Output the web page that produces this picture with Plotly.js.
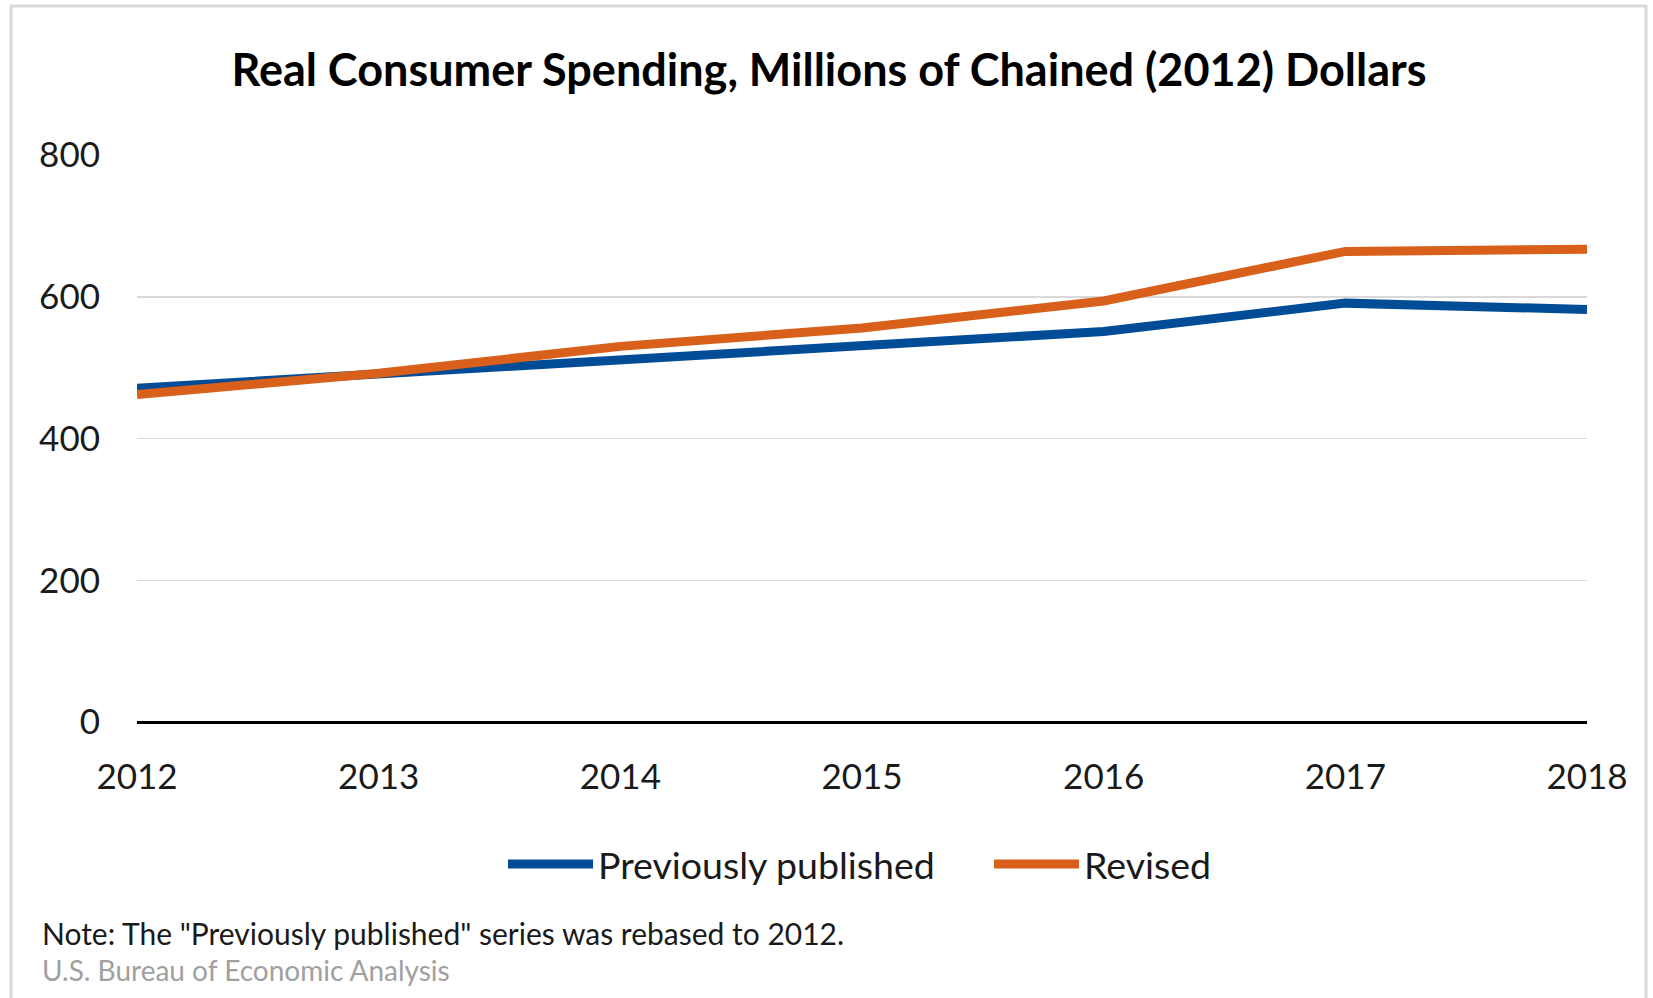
<!DOCTYPE html>
<html>
<head>
<meta charset="utf-8">
<script src="https://cdn.plot.ly/plotly-3.0.1.min.js"></script>
<style>
  html, body { margin: 0; padding: 0; background: #ffffff; }
  #chart { width: 1653px; height: 998px; }
</style>
</head>
<body>
<div id="chart"></div>
<script>
// ---- Data ----
const years = ['2012', '2013', '2014', '2015', '2016', '2017', '2018'];
const previouslyPublished = [471, 491, 512, 531, 551, 591, 582];
const revised = [462, 492, 530, 556, 594, 664, 667];
const yTickValues = [0, 200, 400, 600, 800];
const titleText = 'Real Consumer Spending, Millions of Chained (2012) Dollars';
const noteText = 'Note: The "Previously published" series was rebased to 2012.';
const sourceText = 'U.S. Bureau of Economic Analysis';

const W = 1653, H = 998;
const M = { l: 137, r: 66, t: 155, b: 276 };
const plotW = W - M.l - M.r, plotH = H - M.t - M.b;
const px = x => (x - M.l) / plotW;          // page px -> paper x
const py = y => (H - M.b - y) / plotH;      // page px -> paper y

const FONT = 'Lato, "Open Sans", sans-serif';

const traces = [
  {
    x: years, y: previouslyPublished, type: 'scatter', mode: 'lines',
    name: 'Previously published',
    line: { color: '#004C97', width: 9 }
  },
  {
    x: years, y: revised, type: 'scatter', mode: 'lines',
    name: 'Revised',
    line: { color: '#D9601A', width: 9 }
  }
];

const layout = {
  width: W, height: H,
  margin: M,
  paper_bgcolor: '#ffffff',
  plot_bgcolor: '#ffffff',
  showlegend: true,
  title: {
    text: '<b>' + titleText + '</b>',
    font: { family: FONT, size: 45, color: '#000000' },
    x: 829 / W, xref: 'container', xanchor: 'center',
    y: 1 - 70 / H, yref: 'container', yanchor: 'middle'
  },
  xaxis: {
    type: 'category',
    range: [0, years.length - 1],
    showgrid: false,
    zeroline: false,
    showline: false,
    ticks: 'outside', ticklen: 24, tickcolor: 'rgba(0,0,0,0)',
    tickfont: { family: FONT, size: 35, color: '#1a1a1a' },
    fixedrange: true,
    automargin: false
  },
  yaxis: {
    range: [0, 800],
    tickvals: yTickValues,
    ticktext: yTickValues.map(String),
    showgrid: true, gridcolor: '#d9d9d9', gridwidth: 1.5,
    zeroline: true, zerolinecolor: '#000000', zerolinewidth: 3,
    showline: false,
    ticks: '', ticklabelstandoff: 36,
    tickfont: { family: FONT, size: 35, color: '#1a1a1a' },
    fixedrange: true,
    automargin: false
  },
  legend: {
    orientation: 'h',
    x: px(503), xanchor: 'left',
    y: py(864), yanchor: 'middle',
    font: { family: FONT, size: 37.5, color: '#1a1a1a' },
    itemwidth: 85,
    entrywidth: 386, entrywidthmode: 'pixels',
    tracegroupgap: 0,
    bgcolor: 'rgba(0,0,0,0)'
  },
  annotations: [
    {
      text: noteText, xref: 'paper', yref: 'paper',
      x: px(40), y: py(933), xanchor: 'left', yanchor: 'middle',
      showarrow: false,
      font: { family: FONT, size: 30, color: '#1a1a1a' }
    },
    {
      text: sourceText, xref: 'paper', yref: 'paper',
      x: px(40), y: py(970), xanchor: 'left', yanchor: 'middle',
      showarrow: false,
      font: { family: FONT, size: 28, color: '#a0a0a0' }
    }
  ],
  shapes: [
    {
      type: 'rect', xref: 'paper', yref: 'paper',
      x0: px(11), x1: px(1646), y0: py(1010), y1: py(6),
      line: { color: '#d9d9d9', width: 3 },
      fillcolor: 'rgba(0,0,0,0)',
      layer: 'below'
    }
  ]
};

Plotly.newPlot('chart', traces, layout, { displayModeBar: false, staticPlot: true });
</script>
</body>
</html>
